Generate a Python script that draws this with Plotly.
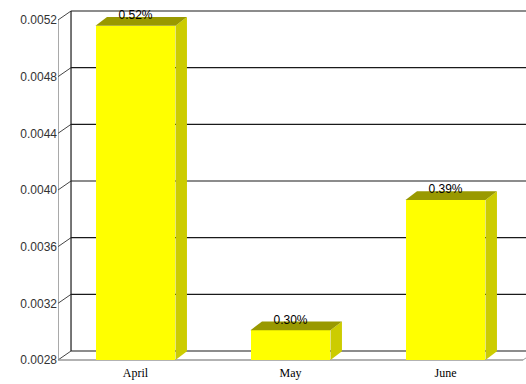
import plotly.graph_objects as go

# ---- data ----
categories = ["April", "May", "June"]
values = [0.00516, 0.00301, 0.00393]
tick_values = [0.0028, 0.0032, 0.0036, 0.0040, 0.0044, 0.0048, 0.0052]
tick_labels = ["0.0028", "0.0032", "0.0036", "0.0040", "0.0044", "0.0048", "0.0052"]

# ---- geometry / style ----
BASE = 0.0028
TOP = 0.0052
X_LEFT, X_RIGHT = -0.5, 2.5
WALL_DX, WALL_DY = 0.084, 0.0000635     # depth of the back wall
BAR_DX, BAR_DY = 0.074, 0.0000612       # depth of each bar
BAR_W = 0.516
LABEL_LIFT = 0.4                         # fraction of bar depth for label
FRONT = "#ffff00"
SIDE = "#cccc00"
TOPC = "#999900"
LINE = "#1a1a1a"

xs = list(range(len(categories)))
fig = go.Figure()

# front faces
fig.add_trace(go.Bar(
    x=xs, y=[v - BASE for v in values], base=BASE, width=BAR_W,
    marker=dict(color=FRONT, line=dict(width=0)), hoverinfo="skip",
    showlegend=False))

# side and top faces
for x, v in zip(xs, values):
    r = x + BAR_W / 2
    l = x - BAR_W / 2
    fig.add_trace(go.Scatter(
        x=[r, r + BAR_DX, r + BAR_DX, r, r],
        y=[BASE, BASE + BAR_DY, v + BAR_DY, v, BASE],
        fill="toself", fillcolor=SIDE, mode="lines", line=dict(width=0),
        hoverinfo="skip", showlegend=False))
    fig.add_trace(go.Scatter(
        x=[l, l + BAR_DX, r + BAR_DX, r, l],
        y=[v, v + BAR_DY, v + BAR_DY, v, v],
        fill="toself", fillcolor=TOPC, mode="lines", line=dict(width=0),
        hoverinfo="skip", showlegend=False))

# value labels
fig.add_trace(go.Scatter(
    x=xs, y=[v + BAR_DY * LABEL_LIFT for v in values], mode="text",
    text=[f"{v*100:.2f}%" for v in values],
    textposition="top center",
    textfont=dict(family="Liberation Sans, Arial", size=12, color="#000"),
    hoverinfo="skip", showlegend=False, cliponaxis=False))

# walls and gridlines (below traces)
shapes = []
bx = X_LEFT + WALL_DX
for tv in tick_values:
    shapes.append(dict(type="line", xref="x", yref="y", layer="below",
                       x0=bx, x1=X_RIGHT + WALL_DX, y0=tv + WALL_DY, y1=tv + WALL_DY,
                       line=dict(color=LINE, width=1.2)))
    shapes.append(dict(type="line", xref="x", yref="y", layer="below",
                       x0=X_LEFT, x1=bx, y0=tv, y1=tv + WALL_DY,
                       line=dict(color="#444", width=1)))
# back left wall edge
shapes.append(dict(type="line", xref="x", yref="y", layer="below",
                   x0=bx, x1=bx, y0=BASE + WALL_DY, y1=TOP + WALL_DY,
                   line=dict(color=LINE, width=1.2)))
# front left axis
shapes.append(dict(type="line", xref="x", yref="y", layer="below",
                   x0=X_LEFT, x1=X_LEFT, y0=BASE, y1=TOP,
                   line=dict(color="#555", width=1)))
# front floor edge
shapes.append(dict(type="line", xref="x", yref="y", layer="below",
                   x0=X_LEFT, x1=X_RIGHT, y0=BASE, y1=BASE,
                   line=dict(color="#999", width=1.5)))
shapes.append(dict(type="line", xref="x", yref="y", layer="below",
                   x0=X_RIGHT, x1=X_RIGHT + WALL_DX, y0=BASE, y1=BASE + WALL_DY,
                   line=dict(color="#999", width=1)))

px_per_unit = 155.0
px_per_val = 141670.0
plot_w = 526 - 58
plot_h = 364
fig.update_layout(
    width=526, height=384,
    margin=dict(l=58, r=0, t=0, b=384 - plot_h, autoexpand=False),
    paper_bgcolor="white", plot_bgcolor="white",
    shapes=shapes, bargap=0,
    xaxis=dict(range=[X_LEFT, X_LEFT + plot_w / px_per_unit], automargin=False,
               tickvals=xs, ticktext=categories, showgrid=False, zeroline=False,
               showline=False, ticks="",
               tickfont=dict(family="Liberation Serif, Times New Roman", size=12, color="#000")),
    yaxis=dict(range=[BASE - 4 / px_per_val, BASE + (plot_h - 4) / px_per_val],
               automargin=False,
               tickvals=tick_values, ticktext=tick_labels, showgrid=False,
               zeroline=False, showline=False, ticks="",
               tickfont=dict(family="Liberation Sans, Arial", size=12, color="#333")),
    font=dict(family="Liberation Sans, Arial"),
)

fig.write_html("out.html", config={"displayModeBar": False},
               post_script="document.body.style.margin='0';document.body.style.overflow='hidden';")
